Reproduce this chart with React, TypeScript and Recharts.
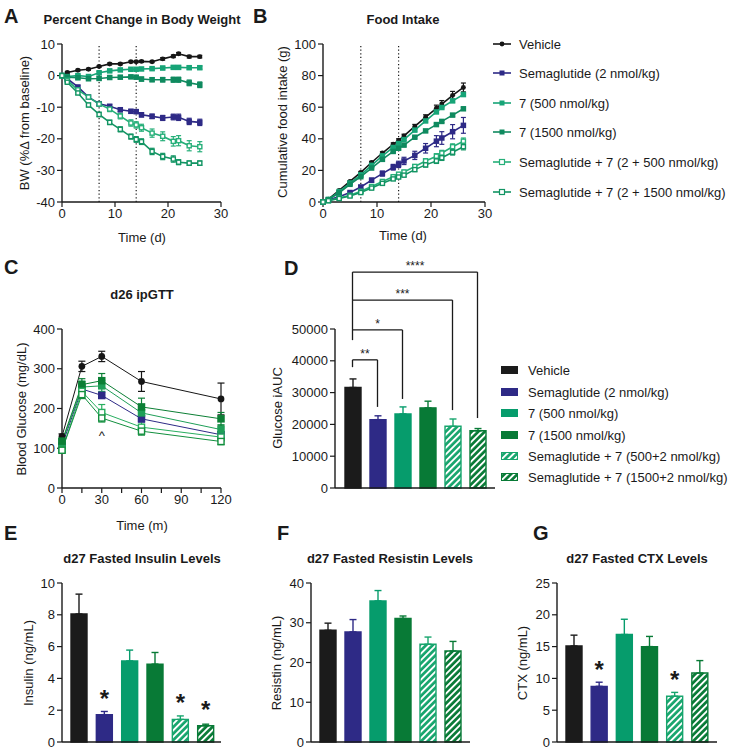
import React from 'react';
import {
  LineChart, Line, BarChart, Bar, XAxis, YAxis, ErrorBar,
  ReferenceLine, ReferenceDot, LabelList,
} from 'recharts';

const FONT = "'Liberation Sans', Arial, Helvetica, sans-serif";
const INK = '#1a1a1a';

// groups, in the order used by every panel
const groupKeys = ['veh', 'sema', 'g500', 'g1500', 's500', 's1500'];
const barCats = ['Vehicle', 'Sema', '7-500', '7-1500', 'S+7-500', 'S+7-1500'];
const legendLineNames = [
  'Vehicle',
  'Semaglutide (2 nmol/kg)',
  '7 (500 nmol/kg)',
  '7 (1500 nmol/kg)',
  'Semaglutide + 7 (2 + 500 nmol/kg)',
  'Semaglutide + 7 (2 + 1500 nmol/kg)',
];
const legendBarNames = [
  'Vehicle',
  'Semaglutide (2 nmol/kg)',
  '7 (500 nmol/kg)',
  '7 (1500 nmol/kg)',
  'Semaglutide + 7 (500+2 nmol/kg)',
  'Semaglutide + 7 (1500+2 nmol/kg)',
];

// A: body weight (% change) and B: cumulative food intake (g)
const days = [0, 1, 3, 5, 7, 9, 11, 13, 14, 15, 17, 19, 21, 22, 24, 26];

const bwVeh = [0, 1.0, 1.7, 2.0, 2.9, 3.7, 3.7, 4.4, 4.4, 4.5, 4.4, 5.3, 6.1, 6.9, 6.0, 6.0];
const bwSema = [0, -1.0, -3.6, -6.8, -8.9, -9.7, -10.8, -11.3, -11.4, -12.4, -12.9, -13.4, -13.1, -13.2, -14.5, -14.8];
const bw500 = [0, -0.3, 0, -0.3, 0.9, 1.5, 1.8, 2.0, 2.0, 2.1, 2.2, 2.4, 2.6, 2.6, 2.5, 2.5];
const bw1500 = [0, -0.5, -0.7, -1.0, -0.9, -0.6, -0.5, -0.4, -0.5, -1.1, -1.3, -1.3, -1.3, -1.3, -2.3, -2.9];
const bwS500 = [0, -1.5, -4.5, -6.8, -9.0, -10.6, -12.8, -15.0, -15.6, -16.5, -18.2, -19.2, -20.8, -20.6, -22.2, -22.5];
const bwS1500 = [0, -2.1, -5.5, -9.3, -12.3, -14.8, -17.0, -19.3, -20.2, -20.9, -24.0, -25.6, -26.4, -27.4, -27.7, -27.7];

const bwVehErr = [0, 0.3, 0.3, 0.3, 0.3, 0.3, 0.3, 0.3, 0.3, 0.3, 0.3, 0.4, 0.4, 0.4, 0.4, 0.4];
const bwSemaErr = [0, 0.3, 0.4, 0.5, 0.5, 0.5, 0.6, 0.6, 0.6, 0.7, 0.7, 0.8, 0.9, 1.0, 1.0, 1.0];
const bw500Err = [0, 0.3, 0.4, 0.4, 0.4, 0.4, 0.4, 0.4, 0.4, 0.4, 0.4, 0.5, 0.5, 0.5, 0.5, 0.5];
const bw1500Err = [0, 0.3, 0.4, 0.4, 0.5, 0.5, 0.5, 0.5, 0.5, 0.6, 0.6, 0.7, 0.8, 0.8, 0.9, 0.9];
const bwS500Err = [0, 0.4, 0.5, 0.6, 0.7, 0.8, 0.9, 1.0, 1.0, 1.1, 1.3, 1.4, 1.5, 1.6, 1.6, 1.6];
const bwS1500Err = [0, 0.4, 0.5, 0.6, 0.7, 0.7, 0.8, 0.8, 0.9, 0.9, 1.0, 1.0, 1.0, 0.8, 0.7, 0.7];

const fiVeh = [0, 1.8, 7.3, 13.0, 18.7, 25.0, 31.0, 36.5, 39.0, 41.8, 47.8, 53.7, 59.3, 62.0, 67.5, 72.5];
const fiSema = [0, 1.3, 3.4, 6.0, 9.5, 13.8, 18.0, 22.0, 23.8, 26.0, 29.5, 34.0, 38.5, 40.5, 44.5, 48.5];
const fi500 = [0, 1.6, 6.6, 12.0, 17.2, 23.2, 29.2, 34.5, 37.0, 39.5, 45.5, 51.3, 57.0, 59.8, 64.0, 68.0];
const fi1500 = [0, 1.5, 5.8, 11.2, 16.0, 21.5, 27.0, 32.0, 34.0, 36.0, 41.0, 45.0, 49.0, 51.0, 55.0, 59.0];
const fiS500 = [0, 0.9, 2.5, 4.2, 6.8, 9.8, 13.0, 16.0, 17.6, 19.0, 22.5, 26.0, 29.0, 31.0, 35.0, 38.5];
const fiS1500 = [0, 0.8, 2.2, 3.8, 6.0, 8.8, 11.8, 14.6, 15.8, 17.0, 20.5, 23.5, 26.0, 28.0, 31.5, 35.0];

const fiVehErr = [0, 0.3, 0.4, 0.5, 0.6, 0.7, 0.8, 0.9, 1.0, 1.1, 1.3, 1.5, 2.0, 2.2, 2.5, 2.8];
const fiSemaErr = [0, 0.3, 0.5, 0.7, 1.0, 1.3, 1.6, 1.8, 2.0, 2.3, 2.6, 3.0, 3.5, 4.0, 4.5, 5.0];
const fi500Err = [0, 0.2, 0.3, 0.4, 0.4, 0.5, 0.5, 0.6, 0.6, 0.6, 0.7, 0.7, 0.8, 0.8, 0.9, 0.9];
const fi1500Err = [0, 0.2, 0.3, 0.3, 0.4, 0.4, 0.5, 0.5, 0.5, 0.6, 0.6, 0.7, 0.7, 0.7, 0.8, 0.8];
const fiS500Err = [0, 0.2, 0.3, 0.4, 0.5, 0.6, 0.7, 0.8, 0.9, 1.0, 1.2, 1.4, 1.6, 1.7, 1.8, 2.0];
const fiS1500Err = [0, 0.2, 0.3, 0.4, 0.5, 0.6, 0.7, 0.8, 0.9, 1.0, 1.2, 1.4, 1.6, 1.7, 1.8, 2.0];

// C: ipGTT blood glucose (mg/dL)
const gttMin = [0, 15, 30, 60, 120];
const gttVeh = [130, 306, 331, 268, 224];
const gttSema = [107, 249, 233, 174, 134];
const gtt500 = [114, 254, 257, 189, 147];
const gtt1500 = [118, 260, 270, 204, 174];
const gttS500 = [96, 243, 190, 153, 128];
const gttS1500 = [95, 235, 176, 143, 117];

const gttVehErr = [6, 13, 13, 25, 40];
const gttSemaErr = [5, 12, 8, 8, 8];
const gtt500Err = [5, 15, 14, 18, 12];
const gtt1500Err = [5, 15, 18, 22, 16];
const gttS500Err = [5, 12, 20, 15, 10];
const gttS1500Err = [5, 10, 10, 10, 8];
const gttCaret = { min: 30, glucose: 133, text: '^' };

// D: glucose iAUC
const aucVal = [31600, 21500, 23300, 25200, 19400, 18000];
const aucErr = [2700, 1200, 2200, 2100, 2300, 700];
const aucBrackets = [
  { to: 'Sema', level: 40300, leftEnd: 38000, rightEnd: 25500, text: '**' },
  { to: '7-500', level: 49700, leftEnd: 46500, rightEnd: 28000, text: '*' },
  { to: 'S+7-500', level: 59100, leftEnd: 49700, rightEnd: 24500, text: '***' },
  { to: 'S+7-1500', level: 67900, leftEnd: 59100, rightEnd: 22000, text: '****' },
];

// E, F, G: d27 fasted levels (ng/mL)
const insulinVal = [8.05, 1.72, 5.1, 4.9, 1.42, 1.02];
const insulinErr = [1.25, 0.2, 0.68, 0.73, 0.22, 0.1];
const insulinSig = [false, true, false, false, true, true];
const resistinVal = [28.1, 27.7, 35.5, 31.1, 24.6, 22.9];
const resistinErr = [1.8, 3.1, 2.6, 0.6, 1.8, 2.4];
const ctxVal = [15.1, 8.75, 16.9, 15.0, 7.2, 10.85];
const ctxErr = [1.7, 0.65, 2.4, 1.6, 0.6, 1.95];
const ctxSig = [false, true, false, false, true, false];

// axis ticks
const dayTicks = [0, 10, 20, 30];
const bwTicks = [-40, -30, -20, -10, 0, 10];
const fiTicks = [0, 20, 40, 60, 80, 100];
const minTicks = [0, 15, 30, 45, 60, 75, 90, 105, 120];
const gttTicks = [0, 100, 200, 300, 400];
const aucTicks = [0, 10000, 20000, 30000, 40000, 50000];
const insulinTicks = [0, 2, 4, 6, 8, 10];
const resistinTicks = [0, 10, 20, 30, 40];
const ctxTicks = [0, 5, 10, 15, 20, 25];

// styling
const lineColor: Record<string, string> = {
  veh: '#161616', sema: '#2e2a86', g500: '#17a477', g1500: '#0f8a5f', s500: '#26af79', s1500: '#129463',
};
const gttColor: Record<string, string> = {
  veh: '#161616', sema: '#2e2a86', g500: '#1f9f58', g1500: '#0c7f35', s500: '#28ae5f', s1500: '#128f3e',
};
const marker: Record<string, string> = {
  veh: 'circle', sema: 'square', g500: 'square', g1500: 'square', s500: 'open', s1500: 'open',
};
const barColor: Record<string, string> = {
  veh: '#1b1b1b', sema: '#2e2a86', g500: '#069c6c', g1500: '#087a36', s500: '#17a56d', s1500: '#087a36',
};
const barFill: Record<string, string> = {
  ...barColor, s500: 'url(#hatchLight)', s1500: 'url(#hatchDark)',
};

const plotA = { x0: 62, y0: 44, x1: 221, y1: 202 };
const plotB = { x0: 323, y0: 44, x1: 485, y1: 202 };
const plotC = { x0: 62, y0: 329, x1: 221, y1: 488 };
const plotD = { x0: 335, y0: 329, x1: 495, y1: 488 };
const plotE = { x0: 62, y0: 583, x1: 221, y1: 742 };
const plotF = { x0: 311, y0: 583, x1: 470, y1: 742 };
const plotG = { x0: 557, y0: 583, x1: 717, y1: 742 };

type Plot = { x0: number; y0: number; x1: number; y1: number };
const YW = 56;
const MR = 14;

function frame(p: Plot, mt: number, xh: number) {
  return {
    style: { position: 'absolute' as const, left: p.x0 - YW, top: p.y0 - mt },
    width: p.x1 - p.x0 + YW + MR,
    height: p.y1 - p.y0 + mt + xh,
    margin: { top: mt, right: MR, left: 0, bottom: 0 },
  };
}

const axis = {
  axisLine: { stroke: INK, strokeWidth: 1.4 },
  tickLine: { stroke: INK, strokeWidth: 1.2 },
  tickSize: 5,
  tick: { fill: INK, fontSize: 13, fontFamily: FONT },
};

function timeRows(x: number[], xKey: string, series: number[][], errs: number[][]) {
  return x.map((t, i) => {
    const row: Record<string, number> = { [xKey]: t };
    groupKeys.forEach((k, j) => {
      row[k] = series[j][i];
      row[k + 'Err'] = errs[j][i];
    });
    return row;
  });
}

function barRows(vals: number[], errs: number[]) {
  return barCats.map((c, i) => {
    const row: Record<string, any> = { name: c };
    groupKeys.forEach((k, j) => {
      row[k] = i === j ? vals[i] : null;
      row[k + 'Err'] = i === j ? [0, errs[i]] : null;
    });
    return row;
  });
}

const bwData = timeRows(days, 'day',
  [bwVeh, bwSema, bw500, bw1500, bwS500, bwS1500],
  [bwVehErr, bwSemaErr, bw500Err, bw1500Err, bwS500Err, bwS1500Err]);
const fiData = timeRows(days, 'day',
  [fiVeh, fiSema, fi500, fi1500, fiS500, fiS1500],
  [fiVehErr, fiSemaErr, fi500Err, fi1500Err, fiS500Err, fiS1500Err]);
const gttData = timeRows(gttMin, 'min',
  [gttVeh, gttSema, gtt500, gtt1500, gttS500, gttS1500],
  [gttVehErr, gttSemaErr, gtt500Err, gtt1500Err, gttS500Err, gttS1500Err]);

function dotFor(kind: string, color: string, size: number) {
  return (p: any) => {
    const { cx, cy, index, dataKey } = p;
    const key = `${dataKey}-${index}`;
    if (cx == null || cy == null) return <g key={key} />;
    const h = size / 2;
    if (kind === 'circle') return <circle key={key} cx={cx} cy={cy} r={h * 0.9} fill={color} />;
    if (kind === 'square') return <rect key={key} x={cx - h} y={cy - h} width={size} height={size} fill={color} />;
    return (
      <rect key={key} x={cx - h + 0.7} y={cy - h + 0.7} width={size - 1.4} height={size - 1.4}
        fill="#fff" stroke={color} strokeWidth={1.4} />
    );
  };
}

type TimeProps = {
  plot: Plot;
  data: Record<string, number>[];
  xKey: string;
  xDomain: [number, number];
  xTicks: number[];
  xFmt?: (v: number) => string;
  yDomain: [number, number];
  yTicks: number[];
  colors: Record<string, string>;
  size: number;
  lineW: number;
  capW: number;
  refX: number[];
  children?: React.ReactNode;
};

function TimePanel(p: TimeProps) {
  const f = frame(p.plot, 12, 40);
  return (
    <div style={f.style}>
      <LineChart width={f.width} height={f.height} data={p.data} margin={f.margin}>
        <XAxis type="number" dataKey={p.xKey} domain={p.xDomain} ticks={p.xTicks} interval={0}
          tickFormatter={p.xFmt} height={40} {...axis} />
        <YAxis type="number" domain={p.yDomain} ticks={p.yTicks} interval={0} width={YW} {...axis} />
        {p.refX.map((x) => (
          <ReferenceLine key={x} x={x} stroke={INK} strokeWidth={1.2} strokeDasharray="1.2 2.4" />
        ))}
        {groupKeys.map((k) => (
          <Line key={k} dataKey={k} stroke={p.colors[k]} strokeWidth={p.lineW}
            dot={dotFor(marker[k], p.colors[k], p.size)} activeDot={false} isAnimationActive={false}>
            <ErrorBar dataKey={k + 'Err'} width={p.capW} strokeWidth={1.2} stroke={p.colors[k]}
              direction="y" isAnimationActive={false} />
          </Line>
        ))}
        {p.children}
      </LineChart>
    </div>
  );
}

const starFor = (p: any) => {
  const vb = p.viewBox || p;
  if (!vb || !vb.height) return null;
  return (
    <text x={vb.x + vb.width / 2} y={vb.y - 8} textAnchor="middle" fontSize={24}
      fontWeight="bold" fontFamily={FONT} fill={INK}>*</text>
  );
};

type BarProps = {
  plot: Plot;
  vals: number[];
  errs: number[];
  ticks: number[];
  sig?: boolean[];
  pad: { left: number; right: number };
  mt?: number;
  children?: React.ReactNode;
};

function BarPanel(p: BarProps) {
  // 2px axis band plus room below so the bottom tick label is not clipped
  const f = frame(p.plot, p.mt ?? 12, 10);
  return (
    <div style={f.style}>
      <BarChart width={f.width} height={f.height} data={barRows(p.vals, p.errs)}
        margin={{ ...f.margin, bottom: 8 }} barCategoryGap={0}>
        <XAxis dataKey="name" tick={false} tickLine={false} height={2} padding={p.pad}
          axisLine={{ stroke: INK, strokeWidth: 1.4 }} />
        <YAxis type="number" domain={[0, p.ticks[p.ticks.length - 1]]} ticks={p.ticks} interval={0}
          width={YW} {...axis} />
        {groupKeys.map((k, i) => (
          <Bar key={k} dataKey={k} stackId="g" barSize={16} fill={barFill[k]} stroke={barColor[k]}
            strokeWidth={1.4} isAnimationActive={false}>
            <ErrorBar dataKey={k + 'Err'} width={3.5} strokeWidth={1.4} stroke={barColor[k]}
              direction="y" isAnimationActive={false} />
            {p.sig && p.sig[i] ? <LabelList dataKey={k} content={starFor} /> : null}
          </Bar>
        ))}
        {p.children}
      </BarChart>
    </div>
  );
}

function Txt(props: {
  x: number; y: number; size?: number; bold?: boolean; anchor?: 'start' | 'middle';
  rotate?: boolean; children: React.ReactNode;
}) {
  const { x, y, size = 13, bold = false, anchor = 'middle', rotate = false } = props;
  const transform = rotate
    ? 'translate(-50%, -50%) rotate(-90deg)'
    : `translate(${anchor === 'middle' ? '-50%' : '0'}, -50%)`;
  return (
    <div style={{
      position: 'absolute', left: x, top: y, fontSize: size, fontWeight: bold ? 700 : 400,
      fontFamily: FONT, lineHeight: 1, whiteSpace: 'nowrap', color: INK, transform,
    }}>
      {props.children}
    </div>
  );
}

function LineIcon({ k }: { k: string }) {
  const c = lineColor[k];
  return (
    <svg width={18} height={10} style={{ display: 'block' }}>
      <line x1={0} y1={5} x2={18} y2={5} stroke={c} strokeWidth={1.6} />
      {marker[k] === 'circle' && <circle cx={9} cy={5} r={2.4} fill={c} />}
      {marker[k] === 'square' && <rect x={6.5} y={2.5} width={5} height={5} fill={c} />}
      {marker[k] === 'open' && <rect x={6.5} y={2.5} width={5} height={5} fill="#fff" stroke={c} strokeWidth={1.2} />}
    </svg>
  );
}

const legendBY = [44, 73, 103, 132, 162, 192];
const legendDY = [370, 391.5, 413, 434.5, 456, 477];

export default function App() {
  return (
    <div style={{ position: 'absolute', left: 0, top: 0, width: 738, height: 753, background: '#fff', overflow: 'hidden' }}>
      <svg width={0} height={0} style={{ position: 'absolute' }}>
        <defs>
          <pattern id="hatchLight" patternUnits="userSpaceOnUse" width={4.6} height={4.6} patternTransform="rotate(45)">
            <rect width={4.6} height={4.6} fill={barColor.s500} />
            <rect width={1.9} height={4.6} fill="#fff" />
          </pattern>
          <pattern id="hatchDark" patternUnits="userSpaceOnUse" width={4.6} height={4.6} patternTransform="rotate(45)">
            <rect width={4.6} height={4.6} fill={barColor.s1500} />
            <rect width={1.9} height={4.6} fill="#fff" />
          </pattern>
        </defs>
      </svg>

      {/* A */}
      <Txt x={4} y={16} size={20} bold anchor="start">A</Txt>
      <Txt x={142} y={19} bold>Percent Change in Body Weight</Txt>
      <Txt x={24} y={123} rotate>BW (%Δ from baseline)</Txt>
      <Txt x={142} y={237}>Time (d)</Txt>
      <TimePanel plot={plotA} data={bwData} xKey="day" xDomain={[0, 30]} xTicks={dayTicks}
        yDomain={[-40, 10]} yTicks={bwTicks} colors={lineColor} size={5.5} lineW={1.6} capW={2.5} refX={[7, 14]} />

      {/* B */}
      <Txt x={253} y={16} size={20} bold anchor="start">B</Txt>
      <Txt x={403} y={19} bold>Food Intake</Txt>
      <Txt x={282} y={122} rotate>Cumulative food intake (g)</Txt>
      <Txt x={403} y={235}>Time  (d)</Txt>
      <TimePanel plot={plotB} data={fiData} xKey="day" xDomain={[0, 30]} xTicks={dayTicks}
        yDomain={[0, 100]} yTicks={fiTicks} colors={lineColor} size={5.5} lineW={1.6} capW={2.5} refX={[7, 14]} />
      {groupKeys.map((k, i) => (
        <div key={k} style={{ position: 'absolute', left: 493, top: legendBY[i] - 5 }}>
          <LineIcon k={k} />
        </div>
      ))}
      {legendLineNames.map((n, i) => (
        <Txt key={n} x={519} y={legendBY[i]} anchor="start">{n}</Txt>
      ))}

      {/* C */}
      <Txt x={4} y={267} size={20} bold anchor="start">C</Txt>
      <Txt x={142} y={294} bold>d26 ipGTT</Txt>
      <Txt x={21} y={409} rotate>Blood Glucose (mg/dL)</Txt>
      <Txt x={142} y={525}>Time  (m)</Txt>
      <TimePanel plot={plotC} data={gttData} xKey="min" xDomain={[0, 120]} xTicks={minTicks}
        xFmt={(v: number) => (v % 30 === 0 ? String(v) : '')}
        yDomain={[0, 400]} yTicks={gttTicks} colors={gttColor} size={7.5} lineW={1} capW={3.5} refX={[]}>
        <ReferenceDot x={gttCaret.min} y={gttCaret.glucose} r={0} fill="none" stroke="none"
          label={{ value: gttCaret.text, position: 'center', fontSize: 13, fill: INK, fontFamily: FONT }} />
      </TimePanel>

      {/* D */}
      <Txt x={284} y={268} size={20} bold anchor="start">D</Txt>
      <Txt x={277} y={408} rotate>Glucose iAUC</Txt>
      <BarPanel plot={plotD} vals={aucVal} errs={aucErr} ticks={aucTicks} pad={{ left: 5, right: 5 }} mt={80}>
        {aucBrackets.map((b) => [
          <ReferenceLine key={b.text + 'h'} ifOverflow="visible" stroke={INK} strokeWidth={1.3}
            segment={[{ x: barCats[0], y: b.level }, { x: b.to, y: b.level }]}
            label={{ value: b.text, position: 'top', offset: 2, fontSize: 12, fill: INK, fontFamily: FONT }} />,
          <ReferenceLine key={b.text + 'l'} ifOverflow="visible" stroke={INK} strokeWidth={1.3}
            segment={[{ x: barCats[0], y: b.level }, { x: barCats[0], y: b.leftEnd }]} />,
          <ReferenceLine key={b.text + 'r'} ifOverflow="visible" stroke={INK} strokeWidth={1.3}
            segment={[{ x: b.to, y: b.level }, { x: b.to, y: b.rightEnd }]} />,
        ])}
      </BarPanel>
      {groupKeys.map((k, i) => (
        <svg key={k} width={17} height={8} style={{ position: 'absolute', left: 501, top: legendDY[i] - 4 }}>
          <rect x={0.5} y={0.5} width={16} height={7} fill={barFill[k]} stroke={barColor[k]} strokeWidth={1} />
        </svg>
      ))}
      {legendBarNames.map((n, i) => (
        <Txt key={n} x={528} y={legendDY[i]} anchor="start">{n}</Txt>
      ))}

      {/* E */}
      <Txt x={4} y={533} size={20} bold anchor="start">E</Txt>
      <Txt x={142} y={558} bold>d27 Fasted Insulin Levels</Txt>
      <Txt x={28} y={663} rotate>Insulin (ng/mL)</Txt>
      <BarPanel plot={plotE} vals={insulinVal} errs={insulinErr} ticks={insulinTicks} sig={insulinSig}
        pad={{ left: 4, right: 3 }} />

      {/* F */}
      <Txt x={277} y={533} size={20} bold anchor="start">F</Txt>
      <Txt x={390} y={558} bold>d27 Fasted Resistin Levels</Txt>
      <Txt x={276} y={663} rotate>Resistin (ng/mL)</Txt>
      <BarPanel plot={plotF} vals={resistinVal} errs={resistinErr} ticks={resistinTicks}
        pad={{ left: 4, right: 5 }} />

      {/* G */}
      <Txt x={533} y={533} size={20} bold anchor="start">G</Txt>
      <Txt x={637} y={558} bold>d27 Fasted CTX Levels</Txt>
      <Txt x={522} y={663} rotate>CTX (ng/mL)</Txt>
      <BarPanel plot={plotG} vals={ctxVal} errs={ctxErr} ticks={ctxTicks} sig={ctxSig}
        pad={{ left: 4, right: 5 }} />
    </div>
  );
}
